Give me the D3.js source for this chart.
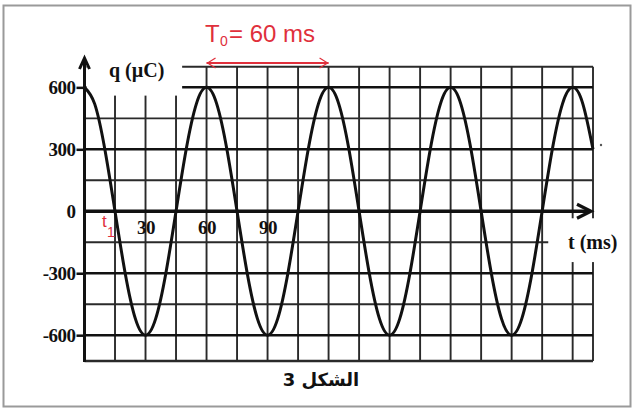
<!DOCTYPE html>
<html>
<head>
<meta charset="utf-8">
<script src="https://cdn.jsdelivr.net/npm/d3@7"></script>
<style>
  html, body { margin: 0; padding: 0; background: #fff; }
  svg { display: block; }
</style>
</head>
<body>
<svg id="chart" width="633" height="409"></svg>
<script>
// ---- data ----
const timesMs = [0,5,10,15,20,25,30,35,40,45,50,55,60,65,70,75,80,85,90,95,100,105,110,115,120,125,130,135,140,145,150,155,160,165,170,175,180,185,190,195,200,205,210,215,220,225,230,235,240,245,250];
const chargeUC = [600,520,300,0,-300,-520,-600,-520,-300,0,300,520,600,520,300,0,-300,-520,-600,-520,-300,0,300,520,600,520,300,0,-300,-520,-600,-520,-300,0,300,520,600,520,300,0,-300,-520,-600,-520,-300,0,300,520,600,520,300];
const yTickValues = [600, 300, 0, -300, -600];
const yTickLabels = ["600", "300", "0", "-300", "-600"];
const xTickValues = [30, 60, 90];
const xTickLabels = ["30", "60", "90"];
const xGridValues = [15,30,45,60,75,90,105,120,135,150,165,180,195,210,225,240,250];
const yGridValues = [700,600,450,300,150,-150,-300,-450,-600,-725];
const periodStart = 60, periodEnd = 120;
const xLabel = "t (ms)";
const yLabel = "q (\u00B5C)";
const caption = "الشكل 3";

// ---- scales ----
const x = d3.scaleLinear().domain([0, 250]).range([84.5, 593]);
const y = d3.scaleLinear().domain([-725, 700]).range([361, 66.7]);

const svg = d3.select("#chart");
const INK = "#111";
const GRID = "#2a2a2a";
const RED = "#e0303c";
const SERIF = "'Liberation Serif', 'Times New Roman', serif";

// outer frame
svg.append("rect").attr("x", 3.5).attr("y", 5.5).attr("width", 627).attr("height", 401)
  .attr("fill", "#fff").attr("stroke", "#9a9a9a").attr("stroke-width", 2);

// grid
const g = svg.append("g");
g.selectAll("line.v").data(xGridValues).join("line").attr("class", "v")
  .attr("x1", d => x(d)).attr("x2", d => x(d))
  .attr("y1", y(700)).attr("y2", y(-725))
  .attr("stroke", GRID).attr("stroke-width", 1.9);
g.selectAll("line.h").data(yGridValues).join("line").attr("class", "h")
  .attr("x1", x(0)).attr("x2", x(250))
  .attr("y1", d => y(d)).attr("y2", d => y(d))
  .attr("stroke", d => (d % 300 === 0 ? INK : GRID))
  .attr("stroke-width", d => (d % 300 === 0 || d === -725 ? 2.5 : 1.9));

// white label backgrounds that hide the grid
svg.append("rect").attr("x", x(0) + 2).attr("y", 50)
  .attr("width", x(48) - x(0) - 2).attr("height", y(560) - 50).attr("fill", "#fff");
svg.append("rect").attr("x", x(228)).attr("y", y(-34))
  .attr("width", 625 - x(228)).attr("height", y(-246) - y(-34)).attr("fill", "#fff");

// y axis ticks + labels
const yAxis = d3.axisLeft(y).tickValues(yTickValues).tickSize(8).tickPadding(1)
  .tickFormat((d, i) => yTickLabels[i]);
const ya = svg.append("g").attr("transform", `translate(${x(0)},0)`).call(yAxis);
ya.select(".domain").remove();
ya.selectAll(".tick line").attr("stroke", INK).attr("stroke-width", 2.5)
  .attr("display", d => d === 0 ? "none" : null);
ya.selectAll(".tick text").attr("font-family", SERIF)
  .attr("font-weight", "bold").attr("font-size", 19).attr("fill", INK)
  .attr("letter-spacing", -0.5);

// x tick labels
const xAxis = d3.axisBottom(x).tickValues(xTickValues).tickSize(0).tickPadding(9)
  .tickFormat((d, i) => xTickLabels[i]);
const xa = svg.append("g").attr("transform", `translate(0,${y(0)})`).call(xAxis);
xa.select(".domain").remove();
xa.selectAll(".tick text").attr("font-family", SERIF)
  .attr("font-weight", "bold").attr("font-size", 19).attr("fill", INK)
  .attr("letter-spacing", -0.5);

// axes lines with arrows
svg.append("line").attr("x1", x(0)).attr("x2", x(0)).attr("y1", y(-725) + 1).attr("y2", 59)
  .attr("stroke", INK).attr("stroke-width", 3);
svg.append("path").attr("d", `M${x(0) - 5},69 L${x(0)},58 L${x(0) + 5},69`)
  .attr("fill", "none").attr("stroke", INK).attr("stroke-width", 3);
svg.append("line").attr("x1", x(0)).attr("x2", 590).attr("y1", y(0)).attr("y2", y(0))
  .attr("stroke", INK).attr("stroke-width", 3.5);
svg.append("path").attr("d", `M577,${y(0) - 7} L591,${y(0)} L577,${y(0) + 7}`)
  .attr("fill", "none").attr("stroke", INK).attr("stroke-width", 3.2);

// curve
const pts = timesMs.map((t, i) => [t, chargeUC[i]]);
svg.append("path").datum(pts)
  .attr("d", d3.line().x(d => x(d[0])).y(d => y(d[1])).curve(d3.curveNatural))
  .attr("fill", "none").attr("stroke", INK).attr("stroke-width", 3);

// stray dot
svg.append("circle").attr("cx", 601).attr("cy", 145).attr("r", 1.2).attr("fill", "#555");

// axis titles
svg.append("text").attr("x", 109).attr("y", 77).text(yLabel)
  .attr("font-family", SERIF).attr("font-weight", "bold").attr("font-size", 20).attr("fill", INK);
svg.append("text").attr("x", 568).attr("y", 249).text(xLabel)
  .attr("font-family", SERIF).attr("font-weight", "bold").attr("font-size", 20).attr("fill", INK);

// red period annotation
const ay = 63;
svg.append("line").attr("x1", x(periodStart)).attr("x2", x(periodEnd)).attr("y1", ay).attr("y2", ay)
  .attr("stroke", RED).attr("stroke-width", 2);
svg.append("path").attr("d", `M${x(periodStart) + 9},${ay - 5} L${x(periodStart) + 1},${ay} L${x(periodStart) + 9},${ay + 5}`)
  .attr("fill", "none").attr("stroke", RED).attr("stroke-width", 1.2);
svg.append("path").attr("d", `M${x(periodEnd) - 9},${ay - 5} L${x(periodEnd) - 1},${ay} L${x(periodEnd) - 9},${ay + 5}`)
  .attr("fill", "none").attr("stroke", RED).attr("stroke-width", 1.2);

const tl = svg.append("text").attr("font-family", "'Liberation Sans', Arial, sans-serif")
  .attr("fill", RED).attr("font-size", 24).attr("y", 42);
tl.append("tspan").attr("x", 205).text("T");
tl.append("tspan").attr("x", 220).attr("dy", 4).attr("font-size", 14).text("0");
tl.append("tspan").attr("x", 229).attr("dy", -4).text("= 60 ms");

// t1 label
const t1 = svg.append("text").attr("font-family", "'Liberation Sans', Arial, sans-serif")
  .attr("fill", RED).attr("font-size", 17).attr("y", 227);
t1.append("tspan").attr("x", 102).text("t");
t1.append("tspan").attr("x", 107).attr("dy", 10).attr("font-size", 14).text("1");

// caption
svg.append("text").attr("x", 321).attr("y", 386).attr("text-anchor", "middle")
  .attr("direction", "rtl")
  .attr("font-family", "'DejaVu Sans', sans-serif").attr("font-weight", "bold")
  .attr("font-size", 18).attr("fill", INK).text(caption);
</script>
</body>
</html>
